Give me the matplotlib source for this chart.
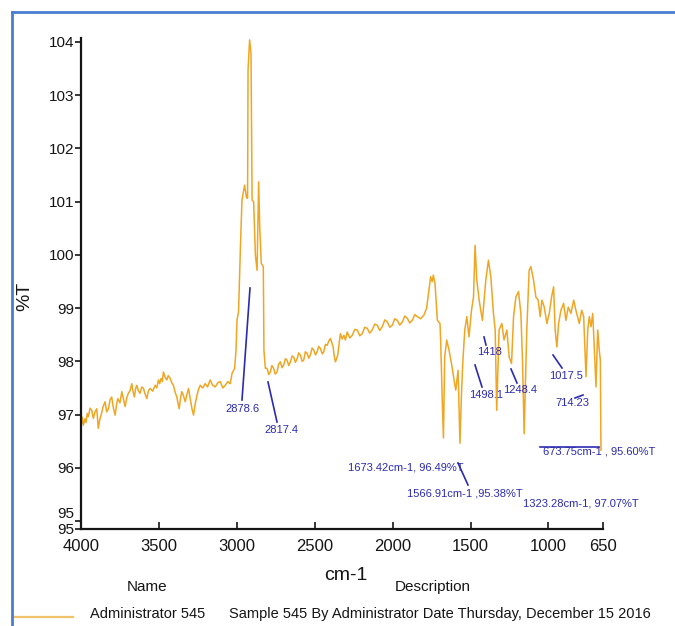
import matplotlib
matplotlib.use("Agg")
import matplotlib.pyplot as plt
from matplotlib.lines import Line2D

# ---------------- data ----------------
wavenumber = [
    4000, 3992, 3985, 3975, 3968, 3960, 3953, 3942, 3931, 3921, 3910, 3899, 3889, 3880, 3871,
    3858, 3846, 3835, 3824, 3813, 3803, 3792, 3781, 3772, 3764, 3750, 3738, 3728, 3717, 3706,
    3696, 3685, 3674, 3665, 3657, 3650, 3642, 3632, 3621, 3610, 3599, 3588, 3578, 3567, 3556,
    3540, 3524, 3514, 3503, 3495, 3486, 3478, 3471, 3460, 3449, 3440, 3428, 3418, 3407, 3396,
    3385, 3378, 3370, 3362, 3353, 3342, 3331, 3320, 3310, 3299, 3288, 3278, 3267, 3256, 3245,
    3235, 3220, 3203, 3188, 3171, 3155, 3138, 3122, 3106, 3090, 3074, 3058, 3042, 3031, 3014,
    3005, 2999, 2989, 2978, 2967, 2950, 2939, 2931, 2928, 2918, 2909, 2902, 2892, 2881, 2870,
    2860, 2853, 2843, 2830, 2826, 2817,
    2806, 2795, 2785, 2775, 2764, 2753, 2742, 2731, 2720, 2710, 2699, 2688, 2677, 2667, 2656,
    2645, 2635, 2624, 2613, 2603, 2592, 2581, 2571, 2560, 2549, 2538, 2528, 2517, 2506, 2495,
    2485, 2474, 2463, 2452, 2442, 2431, 2420, 2410, 2399, 2390, 2382, 2375, 2367, 2360, 2352,
    2343, 2335, 2324, 2313, 2303, 2292, 2275, 2259, 2243, 2227, 2211, 2195, 2179, 2163, 2147,
    2131, 2115, 2099, 2083, 2067, 2050, 2034, 2018, 2002, 1986, 1970, 1954, 1938, 1922, 1906,
    1890, 1874, 1858, 1842, 1820, 1799, 1782, 1767, 1756, 1746, 1739, 1728, 1713, 1696, 1692,
    1681, 1674, 1666, 1653, 1638, 1623, 1606, 1595, 1580, 1568, 1559, 1550, 1537, 1524, 1510,
    1494, 1481, 1471, 1460, 1445, 1424, 1402, 1385, 1370, 1353, 1342, 1332, 1317, 1299, 1285,
    1267, 1252, 1237, 1224, 1209, 1192, 1177, 1166, 1156, 1139, 1124, 1113, 1096, 1081, 1066,
    1053, 1042, 1027, 1010, 995, 980, 967, 957, 946, 935, 920, 903, 888, 873, 856,
    838, 824, 802, 787, 774, 759, 748, 738, 727, 716, 706, 695, 684, 674, 667,
    663,
]
transmittance = [
    96.78, 96.95, 96.80, 96.92, 96.85, 97.02, 96.96, 97.12, 97.08, 96.93, 97.05, 97.11, 96.74, 96.90, 96.99,
    97.15, 97.24, 97.05, 97.11, 97.28, 97.33, 97.12, 96.99, 97.18, 97.30, 97.22, 97.43, 97.30, 97.15, 97.32,
    97.40, 97.45, 97.58, 97.42, 97.33, 97.48, 97.55, 97.45, 97.40, 97.52, 97.49, 97.38, 97.30, 97.45, 97.49,
    97.44, 97.55, 97.50, 97.65, 97.58, 97.68, 97.62, 97.80, 97.70, 97.65, 97.73, 97.68, 97.60, 97.55, 97.42,
    97.33, 97.22, 97.11, 97.30, 97.43, 97.35, 97.24, 97.38, 97.49, 97.30, 97.11, 96.99, 97.20, 97.36, 97.48,
    97.55, 97.50, 97.58, 97.52, 97.65, 97.55, 97.52, 97.60, 97.62, 97.50, 97.55, 97.62, 97.58, 97.77, 97.87,
    98.21, 98.77, 98.93, 100.03, 101.03, 101.31, 101.09, 101.06, 103.47, 104.04, 103.79, 101.03, 101.00, 100.00, 99.71,
    101.37, 100.53, 99.84, 99.78, 98.21, 97.87,
    97.87, 97.75, 97.80, 97.92, 97.87, 97.76, 97.80, 97.95, 97.99, 97.88, 97.93, 98.05, 98.02, 97.92, 97.99,
    98.10, 98.08, 97.98, 98.05, 98.16, 98.12, 98.00, 98.02, 98.18, 98.15, 98.06, 98.12, 98.25, 98.21, 98.12,
    98.18, 98.28, 98.24, 98.14, 98.18, 98.32, 98.30, 98.38, 98.43, 98.35, 98.27, 98.10, 97.99, 98.05, 98.12,
    98.35, 98.52, 98.42, 98.49, 98.40, 98.55, 98.44, 98.49, 98.60, 98.59, 98.48, 98.52, 98.64, 98.62, 98.53,
    98.59, 98.70, 98.68, 98.58, 98.65, 98.78, 98.74, 98.64, 98.68, 98.80, 98.77, 98.68, 98.74, 98.85, 98.81,
    98.72, 98.77, 98.88, 98.84, 98.80, 98.87, 99.00, 99.34, 99.59, 99.50, 99.62, 99.46, 98.77, 98.71, 98.40,
    97.21, 96.56, 98.08, 98.40, 98.21, 97.97, 97.65, 97.46, 97.83, 96.46, 97.33, 97.97, 98.59, 98.84, 98.46,
    98.96, 99.21, 100.18, 99.53, 99.15, 98.77, 99.53, 99.90, 99.59, 98.90, 98.59, 97.08, 98.59, 98.71, 98.40,
    98.59, 98.08, 97.96, 98.84, 99.21, 99.31, 98.90, 97.96, 96.64, 98.59, 99.71, 99.78, 99.53, 99.21, 99.15,
    98.84, 99.15, 99.02, 98.71, 98.90, 99.21, 99.40, 98.59, 98.27, 98.71, 98.96, 99.09, 98.77, 99.02, 98.90,
    99.15, 98.96, 98.71, 98.96, 98.84, 97.71, 98.59, 98.84, 98.65, 98.90, 98.27, 97.52, 98.59, 98.21, 98.02,
    96.33,
]

x_ticks = [4000, 3500, 3000, 2500, 2000, 1500, 1000, 650]
x_tick_labels = ["4000", "3500", "3000", "2500", "2000", "1500", "1000", "650"]
y_ticks = [104, 103, 102, 101, 100, 99, 98, 97, 96, 95, 94.85]
y_tick_labels = ["104", "103", "102", "101", "100", "99", "98", "97", "96", "95", "95"]

peak_labels = ["2878.6", "2817.4", "1418", "1498.1", "1248.4", "1017.5", "714.23"]
point_labels = ["1673.42cm-1, 96.49%T", "1566.91cm-1 ,95.38%T",
                "1323.28cm-1, 97.07%T", "673.75cm-1 , 95.60%T"]

legend_name = "Administrator 545"
legend_desc = "Sample 545 By Administrator Date Thursday, December 15 2016"

# ---------------- style ----------------
W, H = 675, 626
REG = ["Liberation Sans", "DejaVu Sans"]
SPEC = "#EFA623"
BLUE = "#2B2BB0"
INK = "#151515"

fig = plt.figure(figsize=(W / 100, H / 100), dpi=100)
fig.patch.set_facecolor("white")

def fx(px):
    return px / W

def fy(py):
    return 1 - py / H

ax = fig.add_axes([fx(81), fy(529), fx(603) - fx(81), fy(38) - fy(529)])
ax.plot(wavenumber, transmittance, color=SPEC, lw=1.1)
ax.set_xlim(4000, 650)
ax.set_ylim(94.85, 104.075)

for s in ["top", "right"]:
    ax.spines[s].set_visible(False)
for s in ["left", "bottom"]:
    ax.spines[s].set_linewidth(1.6)
    ax.spines[s].set_color(INK)

ax.set_xticks(x_ticks)
ax.set_xticklabels(x_tick_labels, fontfamily=REG, fontsize=12)
ax.set_yticks(y_ticks)
ax.set_yticklabels(y_tick_labels, fontfamily=REG, fontsize=11)
ax.tick_params(axis="x", direction="in", length=5, width=1.2, pad=7, colors=INK)
ax.tick_params(axis="y", direction="out", length=4, width=1.2, pad=1, colors=INK)
ylabs = ax.get_yticklabels()
ylabs[-2].set_va("bottom")

fig.text(fx(346), fy(576), "cm-1", fontsize=14, family=REG, ha="center", va="center", color=INK)
fig.text(fx(25), fy(296), "%T", fontsize=14, family=REG, ha="center", va="center",
         rotation=90, color=INK)

# annotations (positions in figure pixels)
def fline(x0, y0, x1, y1, color=BLUE, lw=1.2):
    fig.add_artist(Line2D([fx(x0), fx(x1)], [fy(y0), fy(y1)], color=color, lw=lw,
                          transform=fig.transFigure))

def ftext(x, y, s, ha="center", size=8, color=BLUE, fam=REG):
    fig.text(fx(x), fy(y), s, fontsize=size, family=fam, ha=ha, va="center", color=color)

leaders = [(242, 400, 250, 288), (268, 382, 277, 422), (484, 337, 486, 345),
           (475, 365, 482, 387), (511, 369, 517, 383), (553, 355, 562, 368),
           (575, 398, 583, 395)]
label_pos = [(243, 409), (281, 430), (490, 352), (486, 395), (520, 390), (566, 376), (572, 403)]
for (x0, y0, x1, y1), (lx, ly), s in zip(leaders, label_pos, peak_labels):
    fline(x0, y0, x1, y1)
    ftext(lx, ly, s)

fline(540, 447, 599, 447)
fline(458, 463, 468, 485)
pt_pos = [(348, 468), (407, 493), (523, 503), (543, 451)]
for (lx, ly), s in zip(pt_pos, point_labels):
    ftext(lx, ly, s, ha="left")

# legend area
ftext(147, 587, "Name", size=11, color=INK)
ftext(433, 587, "Description", size=11, color=INK)
ftext(90, 614, legend_name, ha="left", size=10.5, color=INK)
ftext(229, 614, legend_desc, ha="left", size=10.5, color=INK)
fline(13, 617, 73, 617, color="#F0C36A", lw=1.6)

# blue frame (left and top edges visible)
fline(12, 12, 12, 626, color="#4A7DD2", lw=2)
fline(12, 12, 675, 12, color="#4A7DD2", lw=2)

fig.savefig("out.png", dpi=100)
